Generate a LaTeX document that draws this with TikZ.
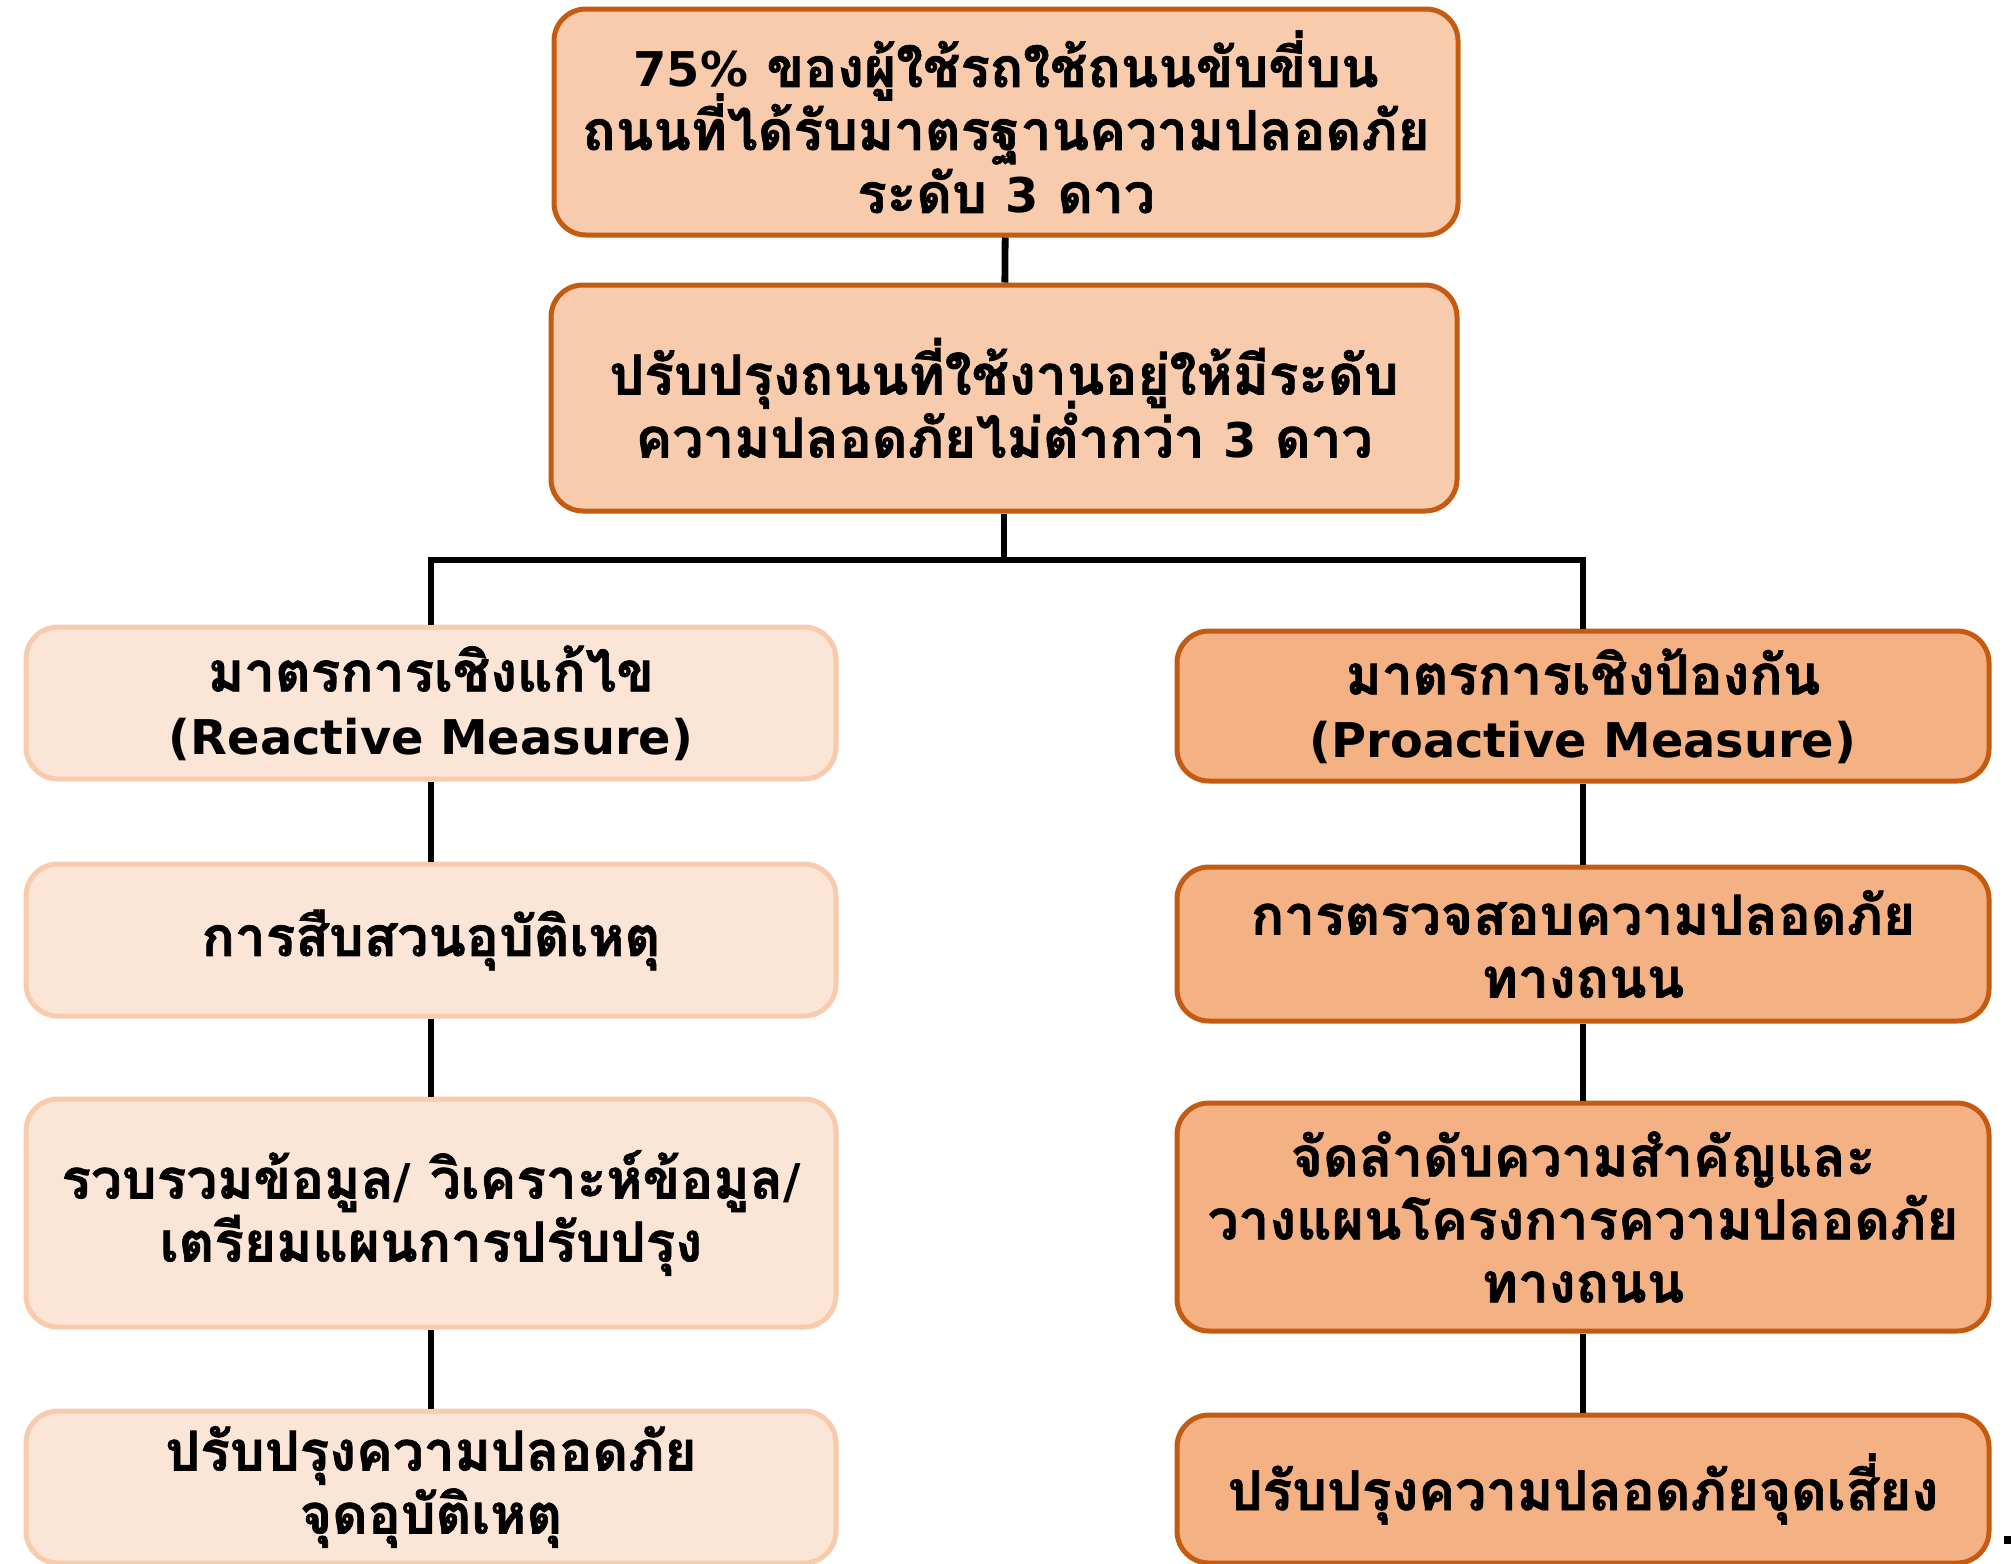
\documentclass[tikz,border=0pt]{standalone}
\usepackage{fontspec}
\usepackage{xcolor}
\usepackage{tikz}
\newfontfamily\thaifont[Script=Thai, BoldFeatures={FakeBold=1.2}]{Loma}
\newfontfamily\latinfont[Scale=0.87]{DejaVu Sans}
\newcommand{\eng}[1]{{\latinfont\bfseries #1}}
\newcommand{\tightlines}{\lineskiplimit -30pt\relax}
\definecolor{goalfill}{HTML}{F8CBAD}
\definecolor{darkedge}{HTML}{C55A11}
\definecolor{reactfill}{HTML}{FBE5D6}
\definecolor{reactedge}{HTML}{F8CBAD}
\definecolor{proactfill}{HTML}{F4B183}

\begin{document}
\begin{tikzpicture}[x=0.5pt, y=-0.5pt,
		box/.style={rounded corners=16pt, line width=2.5pt, align=center, inner sep=0pt,
			font=\thaifont\bfseries\fontsize{27.5}{31.5}\selectfont\tightlines},
		goalbox/.style={box, draw=darkedge, fill=goalfill},
		reactbox/.style={box, draw=reactedge, fill=reactfill, minimum width=405pt},
		proactbox/.style={box, draw=darkedge, fill=proactfill, minimum width=406pt},
		link/.style={line width=3.4pt, black}]
			\useasboundingbox (0,0) rectangle (2011,1563);
			\clip (0,0) rectangle (2011,1563);
			
			% Goal
			\node[goalbox, minimum width=452pt, minimum height=113pt] (goal) at (1006,122)
				{\eng{75\%} ของผู้ใช้รถใช้ถนนขับขี่บน\\ถนนที่ได้รับมาตรฐานความปลอดภัย\\ระดับ \eng{3} ดาว};
			\node[goalbox, minimum width=453pt, minimum height=113pt] (upgrade) at (1004,398)
				{ปรับปรุงถนนที่ใช้งานอยู่ให้มีระดับ\\ความปลอดภัยไม่ต่ำกว่า \eng{3} ดาว};
			
			% Reactive side
			\node[reactbox, minimum height=76pt] (react) at (431,703)
				{มาตรการเชิงแก้ไข\\\eng{(Reactive Measure)}};
			\node[reactbox, minimum height=76pt] (invest) at (431,940)
				{การสืบสวนอุบัติเหตุ};
			\node[reactbox, minimum height=114pt] (collect) at (431,1213)
				{รวบรวมข้อมูล\eng{/} วิเคราะห์ข้อมูล\eng{/}\\เตรียมแผนการปรับปรุง};
			\node[reactbox, minimum height=76pt] (fixacc) at (431,1487)
				{ปรับปรุงความปลอดภัย\\จุดอุบัติเหตุ};
			
			% Proactive side
			\node[proactbox, minimum height=75pt] (proact) at (1583,706)
				{มาตรการเชิงป้องกัน\\\eng{(Proactive Measure)}};
			\node[proactbox, minimum height=77pt] (audit) at (1583,944)
				{การตรวจสอบความปลอดภัย\\ทางถนน};
			\node[proactbox, minimum height=114pt] (plan) at (1583,1217)
				{จัดลำดับความสำคัญและ\\วางแผนโครงการความปลอดภัย\\ทางถนน};
			\node[proactbox, minimum height=74pt] (fixrisk) at (1583,1489)
				{ปรับปรุงความปลอดภัยจุดเสี่ยง};
			
			% Connectors
			\coordinate (bar) at (1006,560);
			\draw[link] (goal) -- (upgrade);
			\draw[link] (upgrade.south) -- (upgrade.south |- bar);
			\draw[link] (react.north) -- (react.north |- bar) -| (proact.north);
			\draw[link] (react) -- (invest);
			\draw[link] (invest) -- (collect);
			\draw[link] (collect) -- (fixacc);
			\draw[link] (proact) -- (audit);
			\draw[link] (audit) -- (plan);
			\draw[link] (plan) -- (fixrisk);
			
			\fill (2004,1536) rectangle (2011,1544);
		\end{tikzpicture}
\end{document}
